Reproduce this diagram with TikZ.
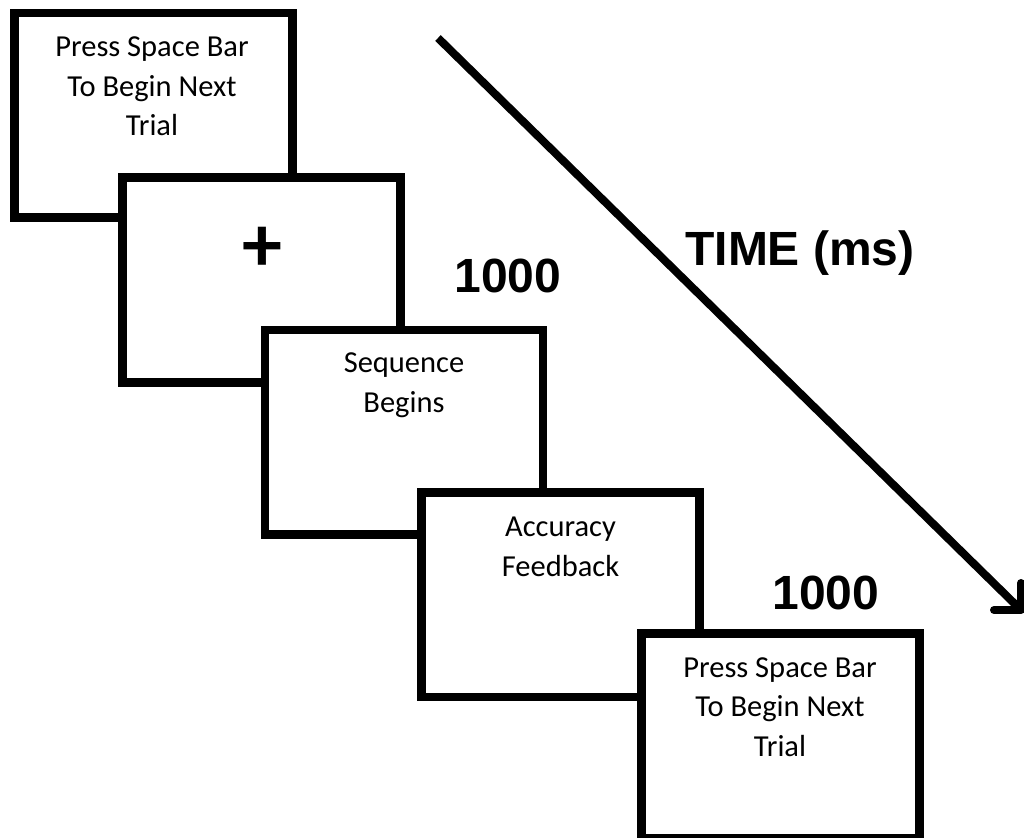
\documentclass[tikz,border=0pt]{standalone}
\usepackage{fontspec}
\setmainfont{Carlito}
\newfontfamily\labelfont{Liberation Sans}
\begin{document}
\begin{tikzpicture}[x=1pt, y=-1pt,
  screen/.style={draw=black, fill=white, line width=8.5pt, line join=miter,
    minimum width=278pt, minimum height=204.5pt, inner sep=0pt, outer sep=0pt},
  caption/.style={font=\fontsize{30.5}{39.5}\selectfont, align=center,
    inner sep=0pt, anchor=base},
  timing/.style={font=\labelfont\bfseries\fontsize{48}{58}\selectfont,
    inner sep=0pt, anchor=base},
  fixation/.style={font=\bfseries\fontsize{80}{84}\selectfont, inner sep=0pt},
  axis/.style={line width=8pt, draw=black}]
\useasboundingbox (0,0) rectangle (1024,837);

% stacked trial screens, each drawn over the previous one;
% captions are placed by the baseline of their last line
\node[screen] (s1) at (153.25,115.25) {};
\node[caption] (t1) at (152,136) {Press Space Bar\\To Begin Next\\Trial};

\node[screen] (s2) at (261.5,280) {};
\node[fixation] (plus) at (262,249) {+};

\node[screen] (s3) at (404,432) {};
\node[caption] (t3) at (404,412) {Sequence\\Begins};

\node[screen] (s4) at (560.5,594.75) {};
\node[caption] (t4) at (560.5,576) {Accuracy\\Feedback};

\node[screen] (s5) at (780.25,735.75) {};
\node[caption] (t5) at (780,756) {Press Space Bar\\To Begin Next\\Trial};

% durations
\node[timing] (d1) at (508,292) {1000};
\node[timing] (d2) at (826,609) {1000};

% time axis
\node[timing] (time) at (800,265) {TIME (ms)};
\coordinate (tstart) at (438,38);
\coordinate (ttip) at (1021,610);
\draw[axis, line cap=butt] (tstart) -- (ttip);
\draw[axis, line cap=round, line join=round]
  ([xshift=-27pt]ttip) -- (ttip) -- ([yshift=27pt]ttip);
\end{tikzpicture}
\end{document}
